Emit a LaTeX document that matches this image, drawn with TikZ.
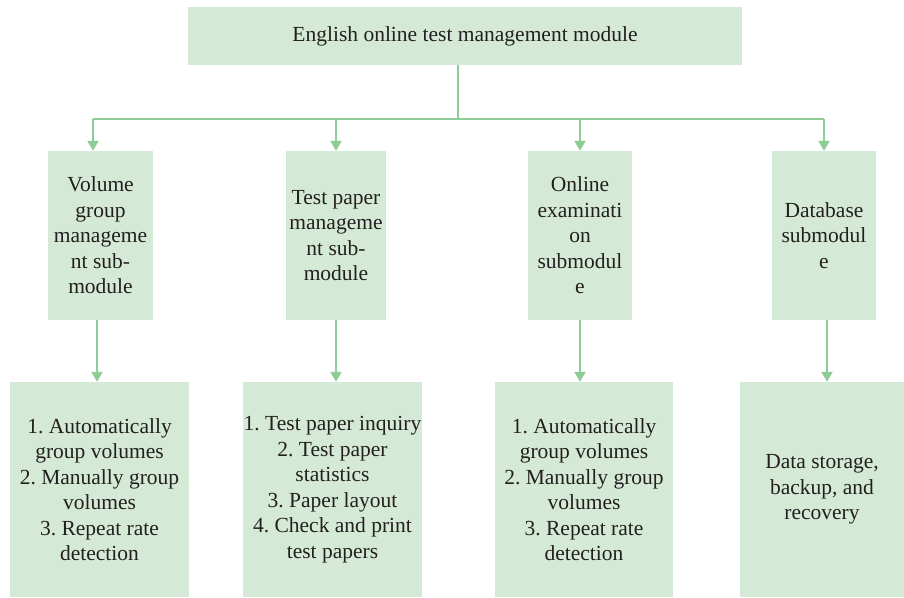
\documentclass[tikz,border=0pt]{standalone}
\usepackage{fontspec}
\setmainfont{Liberation Serif}
\usetikzlibrary{arrows.meta}
\definecolor{boxfill}{HTML}{D5EAD6}
\definecolor{linkgreen}{HTML}{8DCC94}
\definecolor{inkgray}{HTML}{231F20}
\frenchspacing
\begin{document}
\begin{tikzpicture}[x=1pt,y=-1pt,
  box/.style={fill=boxfill,draw=none,inner sep=0pt,align=center,text=inkgray,
    font=\fontsize{21.5}{25.5}\selectfont},
  link/.style={draw=linkgreen,line width=1.6pt},
  arr/.style={draw=linkgreen,line width=2pt,-{Triangle[width=11pt,length=10pt]}}]
\useasboundingbox (0,0) rectangle (904,597);

% root module
\node[box,minimum width=554pt,minimum height=58pt] (top) at (465,36)
  {English online test management module};

% submodules
\node[box,minimum width=105pt,minimum height=169pt] (m1) at (100.5,235.5)
  {Volume\\group\\manageme\\nt sub-\\module};
\node[box,minimum width=100pt,minimum height=169pt] (m2) at (336,235.5)
  {Test paper\\manageme\\nt sub-\\module};
\node[box,minimum width=104pt,minimum height=169pt] (m3) at (580,235.5)
  {Online\\examinati\\on\\submodul\\e};
\node[box,minimum width=104pt,minimum height=169pt] (m4) at (824,235.5)
  {Database\\submodul\\e};

% functions of each submodule
\node[box,minimum width=179pt,minimum height=215pt] (b1) at (99.5,489.5)
  {1. Automatically\\group volumes\\2. Manually group\\volumes\\3. Repeat rate\\detection};
\node[box,minimum width=179pt,minimum height=215pt] (b2) at (332.5,489.5)
  {1. Test paper inquiry\\2. Test paper\\statistics\\3. Paper layout\\4. Check and print\\test papers};
\node[box,minimum width=178pt,minimum height=215pt] (b3) at (584,489.5)
  {1. Automatically\\group volumes\\2. Manually group\\volumes\\3. Repeat rate\\detection};
\node[box,minimum width=164pt,minimum height=215pt] (b4) at (822,489.5)
  {Data storage,\\backup, and\\recovery};

% tree connectors
\coordinate (hub) at (458,119);
\coordinate (c1) at (93,119);
\coordinate (c4) at (824,119);
\draw[link] ([xshift=-7pt]top.south) -- (hub);
\draw[link] (c1) -- (c4);
\draw[arr] (c1) -- (c1 |- m1.north);
\draw[arr] (m2.north |- hub) -- (m2.north);
\draw[arr] (m3.north |- hub) -- (m3.north);
\draw[arr] (c4) -- (m4.north);

\draw[arr] ([xshift=-3.5pt]m1.south) -- ([xshift=-3.5pt]m1.south |- b1.north);
\draw[arr] (m2.south) -- (m2.south |- b2.north);
\draw[arr] (m3.south) -- (m3.south |- b3.north);
\draw[arr] ([xshift=3pt]m4.south) -- ([xshift=3pt]m4.south |- b4.north);
\end{tikzpicture}
\end{document}
